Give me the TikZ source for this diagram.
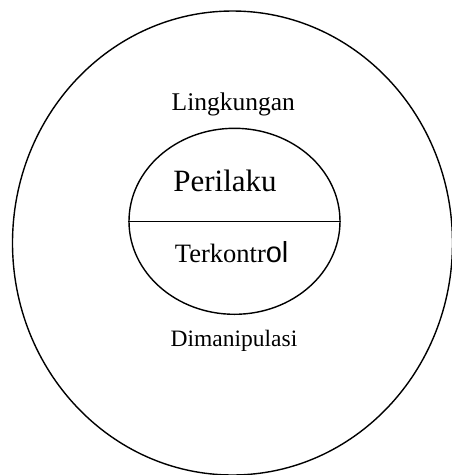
\documentclass[tikz,border=0pt]{standalone}
\usepackage{fontspec}
\setmainfont{Liberation Serif}
\newfontfamily\olfont{Liberation Sans}
\usetikzlibrary{shapes.geometric}
\tikzset{
    ring/.style={
        draw,
        ellipse,
        line width=1.4pt,
        inner sep=0pt
    },
    every node/.style={font=\rmfamily}
}

\begin{document}
\begin{tikzpicture}[x=1pt, y=-1pt]
  \useasboundingbox (0,0) rectangle (451,475);

  % Outer ellipse (environment)
  \node[ring, minimum width=440pt, minimum height=464pt] (outer) at (232.5,243) {};

  % Inner ellipse (behaviour)
  \node[ring, minimum width=211pt, minimum height=186pt] (inner) at (234.5,221.3) {};
  \draw[line width=1.4pt] (inner.west) -- (inner.east);

  % Labels
  \node[anchor=base, font=\fontsize{25.5}{29}\selectfont] (lingkungan) at (233.3,110) {Lingkungan};
  \node[anchor=base, font=\fontsize{31}{35}\selectfont] (perilaku) at (225,191) {Perilaku};
  \node[anchor=base, font=\fontsize{26.5}{30}\selectfont] (terkontrol) at (231.7,262.7) {Terkontr{\olfont\fontsize{29}{33}\selectfont ol}};
  \node[anchor=base, font=\fontsize{23.5}{27}\selectfont] (dimanipulasi) at (234,346.7) {Dimanipulasi};
\end{tikzpicture}
\end{document}
